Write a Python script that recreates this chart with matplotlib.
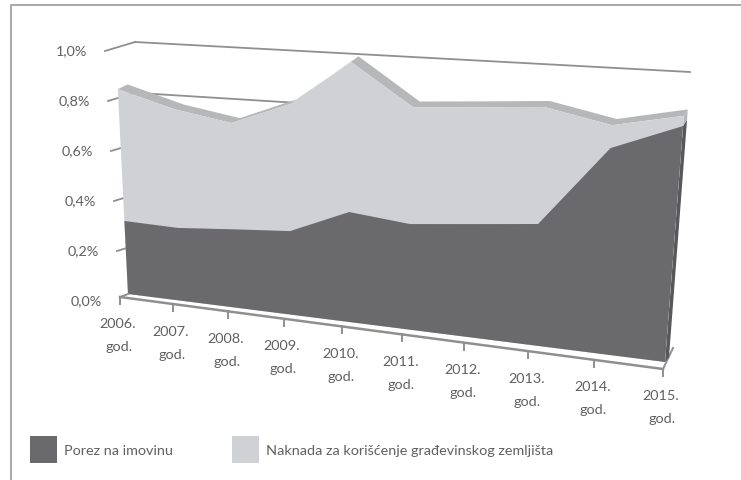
import numpy as np
import matplotlib
matplotlib.use("Agg")
import matplotlib.pyplot as plt
from matplotlib.patches import Rectangle

years = ["2006.", "2007.", "2008.", "2009.", "2010.", "2011.", "2012.", "2013.", "2014.", "2015."]
porez = [0.303, 0.29, 0.30, 0.308, 0.39, 0.36, 0.372, 0.384, 0.627, 0.694]
ukupno = [0.85, 0.764, 0.708, 0.777, 0.923, 0.76, 0.757, 0.755, 0.697, 0.724]
yticks = [0.0, 0.2, 0.4, 0.6, 0.8, 1.0]
ytick_labels = ["0,0%", "0,2%", "0,4%", "0,6%", "0,8%", "1,0%"]
legend_names = ["Porez na imovinu", "Naknada za korišćenje građevinskog zemljišta"]

DARK, LIGHT, RIM = "#6a6a6d", "#d0d1d4", "#b6b7b9"
LINE, TXT = "#8f8f8f", "#606060"
plt.rcParams["font.family"] = ["Lato", "DejaVu Sans"]
FS = 10.4
DEPTH = 1.155


class Plane:
    """Maps chart coords (category i, value v) to picture pixels."""

    def __init__(self, p00, p90, p01, p91):
        self.c = np.array([p00, p90, p01, p91], float)

    def __call__(self, i, v):
        u = np.asarray(i, float) / 9
        v = np.asarray(v, float)
        t = u / (DEPTH - (DEPTH - 1) * u)
        c = self.c
        left = c[0][:, None] + (c[2] - c[0])[:, None] * v
        right = c[1][:, None] + (c[3] - c[1])[:, None] * v
        p = left * (1 - t) + right * t
        return p[0], p[1]


FRONT = Plane((128, 295), (665, 363), (116, 54), (691, 23))
RIMB = Plane((137, 292), (669, 358), (126, 49), (695, 16))
WALL = Plane((136, 297), (673, 349), (135, 43), (690, 73))
AXIS = Plane((120, 298), (663, 370), (120, 298), (663, 370))
STUB = Plane((120, 302), (663, 370), (105, 52), (663, 370))

fig = plt.figure(figsize=(7.41, 4.81), dpi=100)
ax = fig.add_axes([0, 0, 1, 1])
ax.set_xlim(0, 741)
ax.set_ylim(481, 0)
ax.axis("off")

idx = np.arange(len(years))
zero = np.zeros(len(years))

# frame
ax.plot([11, 11, 741], [481, 6, 6], color="#a8a8a8", lw=1.4)

# back wall gridlines
for v, last in [(1.0, 9), (0.8, 3)]:
    x, y = WALL(np.array([0, last]), np.array([v, v]))
    ax.plot(x, y, color=LINE, lw=1.3, zorder=1)

# wall ticks and value labels
for v, lab in zip(yticks, ytick_labels):
    x0, y0 = STUB(np.array([0]), np.array([v]))
    x1, y1 = WALL(np.array([0]), np.array([v]))
    if v > 0:
        ax.plot([x0[0], x1[0]], [y0[0], y1[0]], color=LINE, lw=1.3, zorder=1)
    ax.text(x0[0] - 18, y0[0] - 0.5, lab, ha="right", va="center", color=TXT, fontsize=FS)

# rim of the stacked area
rx, ry = RIMB(idx, np.array(ukupno))
fx, fy = FRONT(idx, np.array(ukupno))
ax.fill(np.r_[fx, rx[::-1]], np.r_[fy, ry[::-1]], color=RIM, lw=0, zorder=2)

# front faces
bx, by = FRONT(idx, zero)
ax.fill(np.r_[fx, bx[::-1]], np.r_[fy, by[::-1]], color=LIGHT, lw=0, zorder=3)
dx, dy = FRONT(idx, np.array(porez))
ax.fill(np.r_[dx, bx[::-1]], np.r_[dy, by[::-1]], color=DARK, lw=0, zorder=4)

# right side of the dark area
sx, sy = RIMB(np.array([9, 9]), np.array([0, porez[-1]]))
ax.fill([bx[-1], dx[-1], sx[1], sx[0]], [by[-1], dy[-1], sy[1], sy[0]], color="#58585b", lw=0, zorder=2)
tx, ty = RIMB(np.array([9]), np.array([ukupno[-1]]))
ax.fill([dx[-1], fx[-1], tx[0], sx[1]], [dy[-1], fy[-1], ty[0], sy[1]], color=RIM, lw=0, zorder=2)

# floor axis
ax_x, ax_y = AXIS(idx, zero)
ax.plot(ax_x, ax_y, color=LINE, lw=1.8, zorder=5)
lx, ly = WALL(np.array([0]), np.array([0]))
ax.plot([ax_x[0], lx[0] - 8], [ax_y[0], ly[0] - 2], color=LINE, lw=1.4, zorder=5)
wx, wy = WALL(np.array([9]), np.array([0]))
ax.plot([ax_x[-1], wx[0]], [ax_y[-1], wy[0]], color=LINE, lw=1.4, zorder=1)
for i, yr in enumerate(years):
    ax.plot([ax_x[i], ax_x[i]], [ax_y[i], ax_y[i] + 7], color=LINE, lw=1.4, zorder=5)
    ax.text(ax_x[i] - 2, ax_y[i] + 26.5, yr, ha="center", va="center", color=TXT, fontsize=FS)
    ax.text(ax_x[i] - 1, ax_y[i] + 49.5, "god.", ha="center", va="center", color=TXT, fontsize=FS)

# legend
for x0, col, name in zip([30, 232], [DARK, LIGHT], legend_names):
    ax.add_patch(Rectangle((x0, 437), 27, 27, color=col, lw=0))
    ax.text(x0 + 34, 451, name, ha="left", va="center", color=TXT, fontsize=FS)

fig.savefig("out.png", dpi=100)
